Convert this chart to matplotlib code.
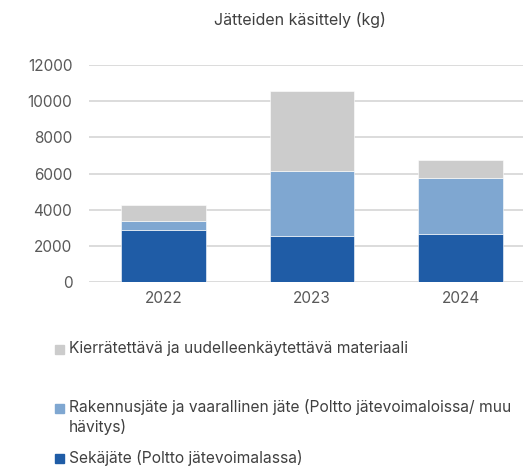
import numpy as np
import matplotlib.pyplot as plt
from matplotlib.patches import Rectangle

plt.rcParams['font.family'] = ['Inter', 'DejaVu Sans']

# data
years = ['2022', '2023', '2024']
sekajate = [2870, 2575, 2685]
rakennusjate = [516, 3590, 3095]
kierratettava = [884, 4420, 995]

labels = ['Sekäjäte (Poltto jätevoimalassa)',
          'Rakennusjäte ja vaarallinen jäte (Poltto jätevoimaloissa/ muu\nhävitys)',
          'Kierrätettävä ja uudelleenkäytettävä materiaali']
colors = ['#1F5CA6', '#7FA7D1', '#CCCCCC']
series = [sekajate, rakennusjate, kierratettava]

fig = plt.figure(figsize=(5.23, 4.68), dpi=100)
ax = fig.add_axes([89 / 523, 1 - 282.3 / 468, 446 / 523, 217.3 / 468])

x = np.arange(len(years))
bottom = np.zeros(len(years))
for vals, col in zip(series, colors):
    ax.bar(x, vals, width=0.57, bottom=bottom, color=col, edgecolor='white', linewidth=0.4, zorder=3)
    bottom += np.array(vals)

ax.set_xlim(-0.5, 2.5)
ax.set_ylim(0, 12000)
ax.set_yticks(range(0, 12001, 2000))
ax.set_xticks(x)
ax.set_xticklabels(years)
ax.grid(axis='y', color='#D9D9D9', linewidth=1.3, zorder=0)
for s in ax.spines.values():
    s.set_visible(False)
ax.tick_params(length=0, labelsize=11, labelcolor='#595959', pad=6)
ax.tick_params(axis='y', pad=12)

fig.text(300 / 523, 1 - 20 / 468, 'Jätteiden käsittely (kg)', ha='center', va='center',
         fontsize=11.5, color='#404040')

# legend drawn by hand, top to bottom: grey, light blue, dark blue
ys = [349, 408, 458]
for lab, col, yy in zip(labels[::-1], colors[::-1], ys):
    fig.patches.append(Rectangle((55 / 523, 1 - (yy + 4.5) / 468), 9 / 523, 9 / 468,
                                 transform=fig.transFigure, color=col))
    if '\n' in lab:
        fig.text(69 / 523, 1 - (yy - 9) / 468, lab, ha='left', va='top',
                 fontsize=11.2, color='#404040', linespacing=1.3)
    else:
        fig.text(69 / 523, 1 - yy / 468, lab, ha='left', va='center',
                 fontsize=11.2, color='#404040')

fig.savefig('out.png', dpi=100)
